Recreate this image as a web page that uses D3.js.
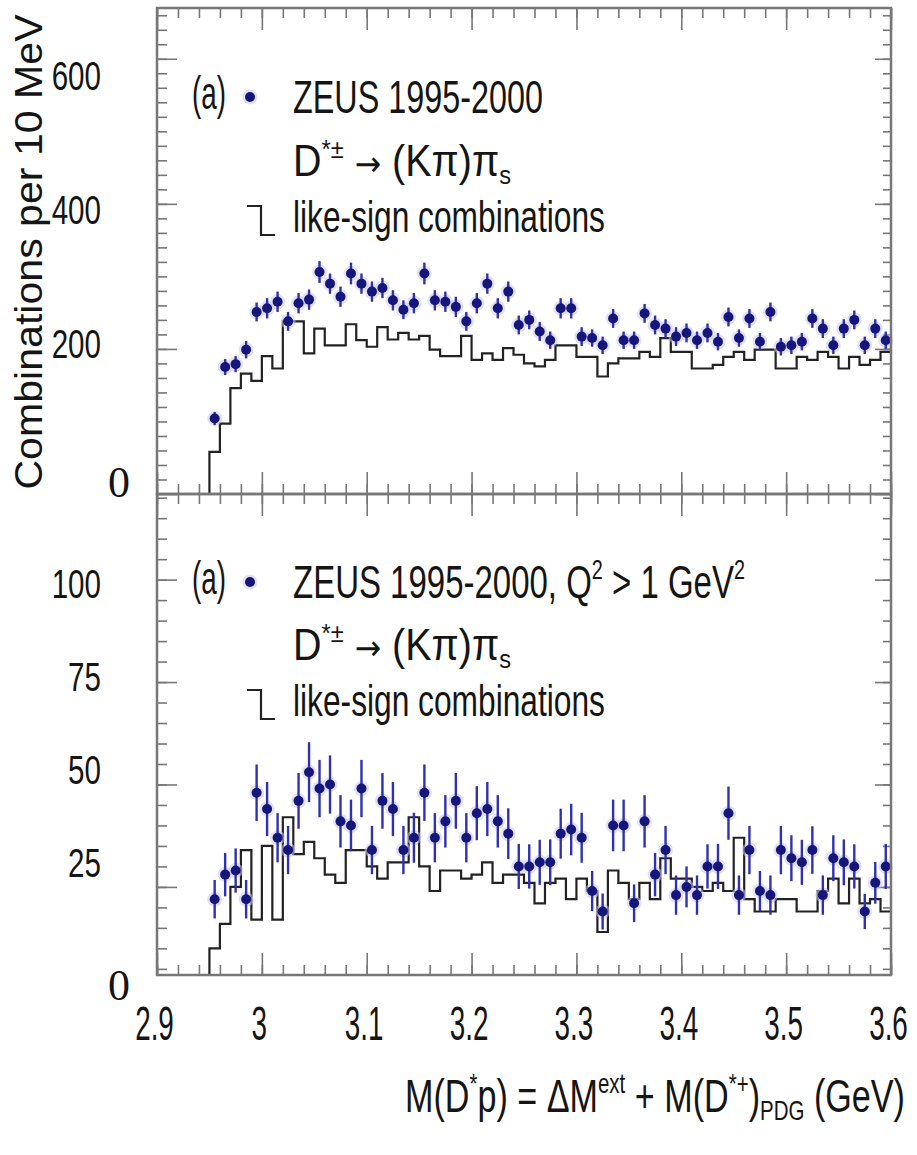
<!DOCTYPE html>
<html>
<head>
<meta charset="utf-8">
<title>ZEUS D*p</title>
<style>
  body { margin: 0; background: #fff; }
  svg text { font-family: "Liberation Sans", Arial, sans-serif; fill: #151515; }
</style>
</head>
<body>
<svg id="chart" width="917" height="1155"></svg>
<script src="https://d3js.org/d3.v7.min.js"></script>
<script>
// 10 MeV bins, first bin starts at 2.95 GeV
var binLow = 2.95, binWidth = 0.01;

// upper panel: all data
var topData = [104,175,179,199,251,256,265,238,263,268,
               306,290,272,304,290,279,284,267,254,263,
               304,267,265,258,238,263,290,256,279,233,
               240,224,212,256,256,217,215,205,242,212,
               212,249,233,228,217,222,212,222,210,244,
               215,242,210,251,203,205,210,242,228,205,
               228,240,205,228,212];
var topErr  = [9,11,11,12,13,14,14,13,14,14,
               15,14,14,15,14,14,14,14,13,14,
               15,14,14,14,13,14,14,14,14,13,
               13,13,12,14,14,13,12,12,13,12,
               12,13,13,13,13,13,12,13,12,13,
               12,13,12,13,12,12,12,13,13,12,
               13,13,12,13,12];
var topLike = [58,97,146,166,156,190,173,238,238,194,
               228,205,205,234,212,203,230,213,222,213,
               218,199,190,190,218,185,194,185,201,192,
               180,176,185,205,205,189,189,162,180,187,
               187,196,189,215,196,196,173,173,178,189,
               196,185,199,199,173,173,189,185,196,189,
               173,189,178,185,196];

// lower panel: Q^2 > 1 GeV^2
var botData = [22,28,29,22,48,44,37,34,46,53,
               49,50,41,40,49,34,46,44,34,37,
               48,37,41,46,37,43,44,41,38,30,
               30,31,31,38,39,37,24,19,40,40,
               21,41,28,34,23,25,23,30,30,43,
               23,34,24,23,34,32,31,34,23,32,
               31,30,19,26,30];
var botErr  = [4.7,5.3,5.4,4.7,6.9,6.6,6.0,5.9,6.8,7.3,
               7.0,7.1,6.4,6.3,7.0,5.9,6.8,6.6,5.9,6.1,
               6.9,6.0,6.4,6.8,6.0,6.6,6.6,6.4,6.2,5.5,
               5.4,5.5,5.6,6.1,6.3,6.1,4.9,4.4,6.3,6.3,
               4.6,6.4,5.3,5.9,4.8,5.0,4.8,5.4,5.5,6.5,
               4.8,5.9,4.9,4.8,5.9,5.6,5.5,5.8,4.8,5.6,
               5.6,5.4,4.3,5.1,5.5];
var botLike = [10,16,25,34,17,35,17,42,33,36,
               32,28,26,34,34,30,27,31,31,42,
               30,24,29,29,27,28,31,26,28,28,
               26,21,26,27,22,27,24,14,29,26,
               22,26,22,32,27,27,25,24,26,24,
               37,22,19,19,22,22,19,19,24,27,
               21,27,21,22,19];

var xTickLabels = [2.9, 3.0, 3.1, 3.2, 3.3, 3.4, 3.5, 3.6];
var topTickLabels = [200, 400, 600];
var botTickLabels = [25, 50, 75, 100];

var svg = d3.select("#chart");
var left = 157, right = 891;
var frameColor = "#777";
var sansFont = "'Liberation Sans', Arial, sans-serif";

var x = d3.scaleLinear().domain([2.9, 3.6]).range([left, right]);

// labelRange: where the printed numbers sit on the page (they are offset from the ticks)
var panels = [
    {top: 8, bottom: 494, domain: [0, 670], data: topData, err: topErr, like: topLike,
     labels: topTickLabels, labelDomain: [200, 600], labelRange: [343, 75],
     major: [0, 200, 400, 600], minor: d3.range(20, 670, 20)},
    {top: 494, bottom: 975, domain: [3.5, 120.9], data: botData, err: botErr, like: botLike,
     labels: botTickLabels, labelDomain: [25, 100], labelRange: [862, 583],
     major: [25, 50, 75, 100], minor: d3.range(5, 121, 5)}
];

var xMajor = d3.range(0, 8).map(function(i){ return 2.9 + i * 0.1; });
var xMinor = d3.range(0, 36).map(function(i){ return 2.9 + i * 0.02; });

function ticks(g, axis, values, size, tx, ty) {
    g.append("g")
        .attr("transform", "translate(" + tx + "," + ty + ")")
        .call(axis.tickValues(values).tickSize(size).tickFormat(""))
        .call(function(a){ a.select(".domain").remove(); })
        .selectAll("line").attr("stroke", frameColor).attr("stroke-width", 1.6);
}

// text with super/subscripts, squeezed to a target width
function richText(g, x0, y0, size, width, parts, rotate) {
    var t = g.append("text").attr("font-size", size);
    var shift = 0;
    parts.forEach(function(p){
        var s = t.append("tspan").text(p[0]);
        var target = p[1] === "sup" ? -0.42 * size : (p[1] === "sub" ? 0.18 * size : 0);
        if (target - shift !== 0) s.attr("dy", target - shift);
        shift = target;
        if (p[1] === "sup" || p[1] === "sub") s.attr("font-size", size * 0.6);
        if (p[1] === "arrow") s.style("font-family", "'DejaVu Sans', sans-serif").attr("font-size", size * 0.8);
    });
    var w = t.node().getBBox().width;
    var k = width / w;
    t.attr("transform", "translate(" + x0 + "," + y0 + ")" + (rotate ? " rotate(-90)" : "") + " scale(" + k + ",1)");
    if (rotate) t.attr("text-anchor", "middle");
    return t;
}

panels.forEach(function(p, pi){
    var y = d3.scaleLinear().domain(p.domain).range([p.bottom, p.top]);
    var yLab = d3.scaleLinear().domain(p.labelDomain).range(p.labelRange);
    var g = svg.append("g");

    // ticks on all four sides, pointing inward
    ticks(g, d3.axisBottom(x), xMinor, -10, 0, p.bottom);
    ticks(g, d3.axisBottom(x), xMajor, -22, 0, p.bottom);
    ticks(g, d3.axisTop(x), xMinor, -10, 0, p.top);
    ticks(g, d3.axisTop(x), xMajor, -22, 0, p.top);
    ticks(g, d3.axisLeft(y), p.minor, -10, left, 0);
    ticks(g, d3.axisLeft(y), p.major, -20, left, 0);
    ticks(g, d3.axisRight(y), p.minor, -8, right, 0);
    ticks(g, d3.axisRight(y), p.major, -16, right, 0);

    // y tick labels
    g.append("g")
        .attr("transform", "translate(101,0)")
        .call(d3.axisLeft(yLab).tickValues(p.labels).tickSize(0))
        .call(function(a){ a.select(".domain").remove(); })
        .selectAll("text")
        .attr("x", 0).attr("dy", "0.36em")
        .style("font-family", sansFont)
        .attr("font-size", 40).attr("fill", "#222")
        .attr("transform", "scale(0.74,1)");

    // pasted "0" label in serif
    g.append("text").attr("x", 119).attr("y", p.bottom + (pi === 0 ? 3 : 25))
        .attr("text-anchor", "middle").attr("font-size", 44)
        .style("font-family", "'Liberation Serif', 'Times New Roman', serif")
        .text("0");

    // like-sign histogram
    var pts = [[binLow, null]];
    p.like.forEach(function(v, i){ pts.push([binLow + i * binWidth, v]); });
    pts.push([binLow + p.like.length * binWidth, p.like[p.like.length - 1]]);
    var line = d3.line()
        .x(function(d){ return x(d[0]); })
        .y(function(d){ return d[1] === null ? p.bottom : y(d[1]); })
        .curve(d3.curveStepAfter);
    g.append("path").attr("d", line(pts))
        .attr("fill", "none").attr("stroke", "#222").attr("stroke-width", 2.2);

    // data points with error bars
    var pg = g.append("g");
    var centers = p.data.map(function(v, i){ return binLow + (i + 0.5) * binWidth; });
    pg.selectAll(".halo").data(p.data).enter().append("circle")
        .attr("cx", function(d, i){ return x(centers[i]); })
        .attr("cy", function(d){ return y(d); })
        .attr("r", 7.5).attr("fill", "#c9c9f2").attr("opacity", 0.55);
    pg.selectAll(".err").data(p.data).enter().append("line")
        .attr("x1", function(d, i){ return x(centers[i]); })
        .attr("x2", function(d, i){ return x(centers[i]); })
        .attr("y1", function(d, i){ return y(d - p.err[i]); })
        .attr("y2", function(d, i){ return y(d + p.err[i]); })
        .attr("stroke", "#3030b0").attr("stroke-width", 2.4);
    pg.selectAll(".pt").data(p.data).enter().append("circle")
        .attr("cx", function(d, i){ return x(centers[i]); })
        .attr("cy", function(d){ return y(d); })
        .attr("r", 5).attr("fill", "#15157a");

    // legend
    var ly = pi === 0 ? [113, 176, 232] : [598, 660, 716];
    var lg = g.append("g");
    richText(lg, 192, ly[0] - 4, 46, 34, [["(a)"]]);
    lg.append("circle").attr("cx", 250).attr("cy", ly[0] - 16).attr("r", 7.5)
        .attr("fill", "#c9c9f2").attr("opacity", 0.55);
    lg.append("circle").attr("cx", 250).attr("cy", ly[0] - 16).attr("r", 5).attr("fill", "#15157a");
    if (pi === 0) {
        richText(lg, 293, ly[0], 46, 250, [["ZEUS 1995-2000"]]);
    } else {
        richText(lg, 293, ly[0], 46, 452, [["ZEUS 1995-2000, Q"], ["2", "sup"], [" > 1 GeV"], ["2", "sup"]]);
    }
    richText(lg, 293, ly[1], 44, 218,
        [["D"], ["*\u00b1", "sup"], [" "], ["\u2192", "arrow"], [" (K\u03c0)\u03c0"], ["s", "sub"]]);
    richText(lg, 293, ly[2], 44, 312, [["like-sign combinations"]]);
    lg.append("path")
        .attr("d", "M247," + (ly[2] - 26) + "H261V" + (ly[2] + 3) + "H275")
        .attr("fill", "none").attr("stroke", "#222").attr("stroke-width", 2.2);

    // frame
    g.append("rect").attr("x", left).attr("y", p.top)
        .attr("width", right - left).attr("height", p.bottom - p.top)
        .attr("fill", "none").attr("stroke", frameColor).attr("stroke-width", 2.5);
});

// x tick labels under the lower panel
svg.append("g")
    .attr("transform", "translate(0,975)")
    .call(d3.axisBottom(x).tickValues(xTickLabels).tickSize(0).tickFormat(function(d){ return d3.format("")(+d.toFixed(1)); }))
    .call(function(a){ a.select(".domain").remove(); })
    .selectAll("text")
    .attr("y", 0).attr("dy", null)
    .style("font-family", sansFont)
    .attr("font-size", 48).attr("fill", "#222")
    .attr("transform", "translate(-3,65) scale(0.58,1)");

// axis titles
richText(svg, 405, 1112, 46, 500,
    [["M(D"], ["*", "sup"], ["p) = \u0394M"], ["ext", "sup"], [" + M(D"], ["*+", "sup"], [")"], ["PDG", "sub"], [" (GeV)"]]);
richText(svg, 42, 252, 38, 476, [["Combinations per 10 MeV"]], true)
    .attr("fill", "#333");
</script>
</body>
</html>
